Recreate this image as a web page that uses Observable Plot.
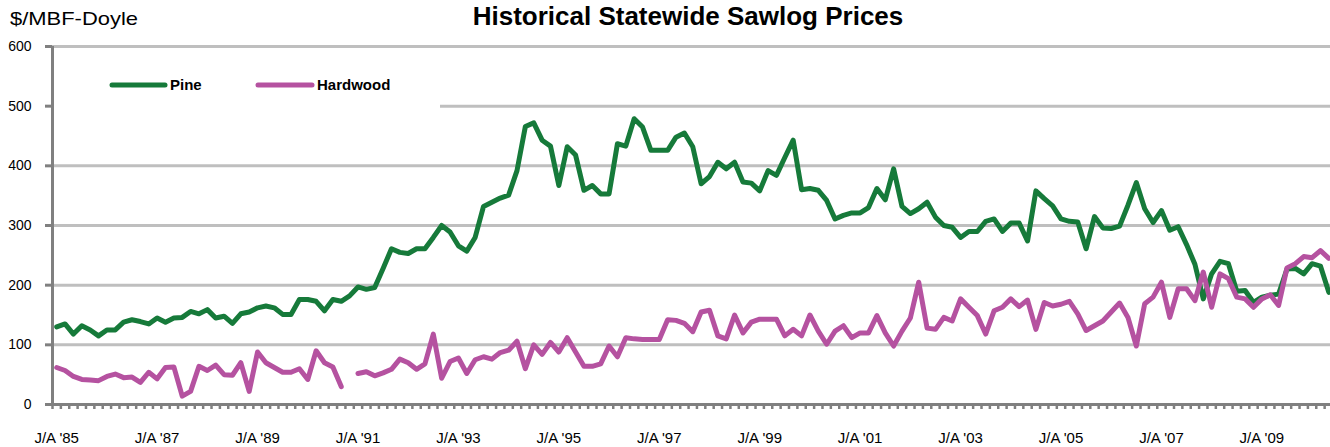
<!DOCTYPE html>
<html>
<head>
<meta charset="utf-8">
<script src="https://cdn.jsdelivr.net/npm/d3@7"></script>
<script src="https://cdn.jsdelivr.net/npm/@observablehq/plot@0.6"></script>
<style>
  html, body { margin: 0; padding: 0; background: #fff; }
  #wrap { position: relative; width: 1330px; height: 447px; overflow: hidden; font-family: "Liberation Sans", Arial, sans-serif; }
  #wrap > svg { position: absolute; left: 0; top: 0; }
  #overlay { pointer-events: none; }
</style>
</head>
<body>
<div id="wrap"></div>
<script>
// Bimonthly statewide sawlog prices, $/MBF-Doyle, starting J/A '85
const pine = [
  130,135,118,132,125,115,125,125,138,142,
  139,135,145,138,145,146,156,152,159,145,
  148,136,152,155,162,165,162,151,151,176,
  176,173,157,176,173,182,197,193,196,228,
  261,255,253,261,261,280,300,289,266,257,
  280,332,339,346,351,392,466,472,443,433,
  367,432,418,359,367,353,353,437,433,479,
  465,426,426,426,448,455,432,370,382,406,
  395,406,373,371,358,392,384,414,443,360,
  362,359,342,311,317,321,321,330,362,343,
  395,332,320,328,339,314,300,297,280,290,
  290,307,311,290,304,304,274,358,345,333,
  311,307,306,261,315,296,295,299,334,372,
  328,305,325,292,298,268,235,177,219,240,
  236,190,191,171,180,183,185,227,228,219,
  236,232,188
];
const hardwood = [
  62,57,47,42,41,40,47,51,45,46,
  37,54,43,62,63,14,22,64,57,66,
  50,49,70,22,88,70,62,54,54,60,
  42,90,70,63,30,null,52,55,48,53,
  59,76,70,59,68,118,44,72,78,52,
  75,80,76,87,91,106,60,100,84,104,
  88,112,88,64,64,68,98,80,112,110,
  109,109,109,142,141,136,122,155,158,115,
  110,150,120,138,143,143,143,115,126,115,
  150,123,101,123,132,112,120,120,149,120,
  98,123,145,205,128,126,146,140,177,163,
  149,118,157,163,177,164,175,126,171,165,
  168,173,152,124,132,140,155,170,146,98,
  169,180,205,146,194,194,174,222,163,219,
  211,180,177,163,177,184,166,229,236,248,
  246,258,245
];
const tickLabels = ["J/A '85","J/A '87","J/A '89","J/A '91","J/A '93","J/A '95","J/A '97","J/A '99","J/A '01","J/A '03","J/A '05","J/A '07","J/A '09"];
const yTicks = [0, 100, 200, 300, 400, 500, 600];
const seriesNames = ["Pine", "Hardwood"];
const seriesColors = ["#167a3a", "#b552a0"];

const rows = [];
pine.forEach((v, i) => rows.push({i, v, s: "Pine"}));
hardwood.forEach((v, i) => rows.push({i, v, s: "Hardwood"}));
const labelIdx = tickLabels.map((_, k) => k * 12);
const minorTicks = d3.range(-0.5, pine.length + 0.5, 1);

const chart = Plot.plot({
  width: 1330,
  height: 447,
  marginTop: 46,
  marginBottom: 43,
  marginLeft: 52,
  marginRight: 0,
  style: { fontFamily: "Liberation Sans, Arial, sans-serif", background: "transparent", overflow: "visible" },
  x: { domain: [-0.5, 152.2], axis: null },
  y: { domain: [0, 600], axis: null },
  color: { domain: seriesNames, range: seriesColors },
  marks: [
    Plot.gridY(yTicks, { stroke: "#bfbfbf", strokeOpacity: 1, strokeWidth: 3 }),
    Plot.axisY(yTicks, { tickSize: 7, tickPadding: 14, stroke: "#808080", strokeWidth: 3, fill: "#000", fontSize: 14, label: null }),
    Plot.ruleX([-0.5], { stroke: "#808080", strokeWidth: 3 }),
    Plot.axisX(minorTicks, { tickSize: 5, stroke: "#808080", strokeWidth: 2.5, tickFormat: () => "", label: null }),
    Plot.ruleY([0], { stroke: "#808080", strokeWidth: 3 }),
    Plot.axisX(labelIdx, { tickSize: 0, tickPadding: 28, tickFormat: d => tickLabels[d / 12], fill: "#000", fontSize: 15, label: null }),
    Plot.line(rows, { x: "i", y: "v", z: "s", stroke: "s", strokeWidth: 5, strokeLinejoin: "round", strokeLinecap: "round" })
  ]
});
document.getElementById("wrap").appendChild(chart);

// Overlay: title, unit label, legend
const ns = "http://www.w3.org/2000/svg";
const ov = d3.select("#wrap").append("svg").attr("id", "overlay")
  .attr("width", 1330).attr("height", 447);
ov.append("text").attr("x", 688).attr("y", 25).attr("text-anchor", "middle")
  .attr("font-family", "Liberation Sans, Arial, sans-serif").attr("font-weight", "bold")
  .attr("font-size", 26).attr("fill", "#000").text("Historical Statewide Sawlog Prices");
ov.append("text").attr("x", 10).attr("y", 25)
  .attr("font-family", "Liberation Sans, Arial, sans-serif")
  .attr("font-size", 19).attr("fill", "#000").attr("textLength", 128).attr("lengthAdjust", "spacingAndGlyphs")
  .text("$/MBF-Doyle");
// legend box
ov.append("rect").attr("x", 54).attr("y", 50).attr("width", 386).attr("height", 59).attr("fill", "#fff");
const legendPos = [{x1: 112, x2: 165, tx: 170}, {x1: 258, x2: 312, tx: 317}];
seriesNames.forEach((name, k) => {
  const p = legendPos[k];
  ov.append("line").attr("x1", p.x1).attr("x2", p.x2).attr("y1", 85).attr("y2", 85)
    .attr("stroke", seriesColors[k]).attr("stroke-width", 5).attr("stroke-linecap", "round");
  ov.append("text").attr("x", p.tx).attr("y", 90)
    .attr("font-family", "Liberation Sans, Arial, sans-serif").attr("font-weight", "bold")
    .attr("font-size", 15).attr("fill", "#000").text(name);
});
</script>
</body>
</html>
